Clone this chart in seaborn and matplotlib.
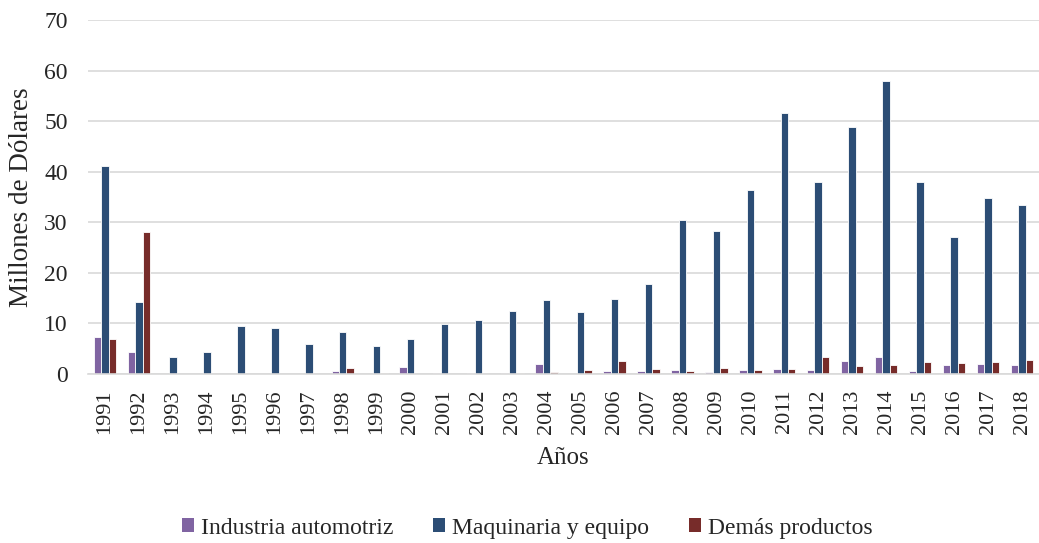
import matplotlib
matplotlib.use("Agg")
import matplotlib.pyplot as plt
import pandas as pd
import seaborn as sns

# Valores (millones de dolares)
years = [str(y) for y in range(1991, 2019)]
series_names = ["Industria automotriz", "Maquinaria y equipo", "Demás productos"]
automotriz = [7.4, 4.3, 0.0, 0.0, 0.0, 0.0, 0.1, 0.5, 0.1, 1.3,
              0.3, 0.3, 0.3, 2.0, 0.1, 0.6, 0.5, 0.8, 0.4, 0.8,
              1.0, 0.7, 2.6, 3.4, 0.6, 1.8, 2.0, 1.8]
maquinaria = [41.2, 14.3, 3.4, 4.3, 9.5, 9.1, 6.0, 8.3, 5.6, 6.9,
              9.8, 10.7, 12.5, 14.7, 12.2, 14.8, 17.7, 30.5, 28.2, 36.4,
              51.7, 37.9, 48.9, 57.9, 37.9, 27.1, 34.8, 33.5]
demas = [7.0, 28.0, 0.0, 0.0, 0.0, 0.0, 0.0, 1.2, 0.2, 0.0,
         0.0, 0.1, 0.2, 0.4, 0.7, 2.6, 0.9, 0.5, 1.1, 0.7,
         0.9, 3.3, 1.6, 1.8, 2.3, 2.1, 2.3, 2.7]
colors = ["#8064a2", "#2c4d75", "#772c2a"]

df = pd.DataFrame({
    "Año": years * 3,
    "Serie": [s for s in series_names for _ in years],
    "Valor": automotriz + maquinaria + demas,
})

sns.set_style("white")
plt.rcParams["font.family"] = ["Liberation Serif", "DejaVu Serif"]

fig = plt.figure(figsize=(10.39, 5.43), dpi=100)
ax = fig.add_axes([0.0847, 0.3112, 0.9153, 0.652])

sns.barplot(data=df, x="Año", y="Valor", hue="Serie", hue_order=series_names,
            palette=colors, width=0.66, edgecolor="white", linewidth=0.6,
            saturation=1, ax=ax)

ax.set_xlim(-0.5, len(years) - 0.5)
ax.set_ylim(0, 70)
ax.set_yticks(range(0, 71, 10))
ax.yaxis.grid(True, color="#d9d9d9", linewidth=1.2)
ax.set_axisbelow(True)
for side in ["top", "right", "left"]:
    ax.spines[side].set_visible(False)
ax.spines["bottom"].set_color("#d9d9d9")
ax.spines["bottom"].set_linewidth(1.2)
ax.tick_params(axis="x", rotation=90, labelsize=16, length=0, pad=11)
ax.tick_params(axis="y", labelsize=17, length=0, pad=14.5)

ax.set_xlabel("Años", fontsize=18)
ax.xaxis.set_label_coords(0.5, -0.205)
ax.set_ylabel("Millones de Dólares", fontsize=19.5)
ax.yaxis.set_label_coords(-0.057, 0.5)

leg = ax.legend(loc="center", bbox_to_anchor=(0.462, -0.435), ncol=3,
                frameon=False, fontsize=17, handlelength=0.5, handleheight=0.55,
                handletextpad=0.3, columnspacing=1.7)
for h in leg.legend_handles:
    h.set_edgecolor("none")

fig.savefig("out.png", dpi=100)
